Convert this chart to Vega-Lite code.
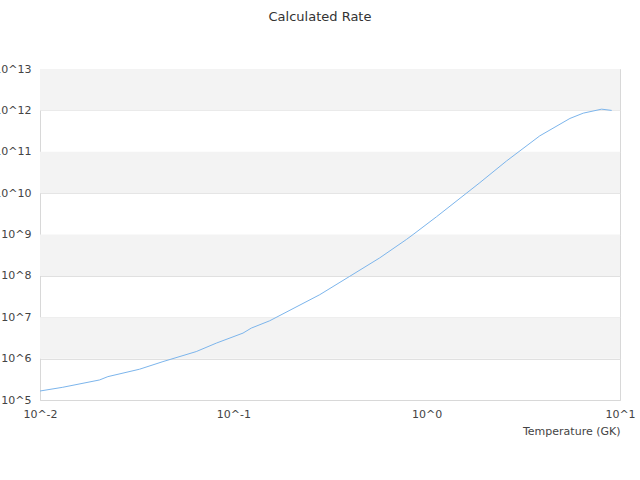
{
  "$schema": "https://vega.github.io/schema/vega-lite/v6.json",
  "width": 580,
  "height": 331,
  "autosize": {"type": "none"},
  "padding": {"left": 40, "top": 69, "right": 20, "bottom": 80},
  "background": "#ffffff",
  "title": {
    "text": "Calculated Rate",
    "font": "DejaVu Sans",
    "fontSize": 13,
    "fontWeight": "normal",
    "color": "#333333",
    "anchor": "middle",
    "frame": "group",
    "baseline": "alphabetic",
    "offset": 29,
    "dx": -10
  },
  "config": {
    "view": {"stroke": "#d8d8d8", "strokeWidth": 1},
    "axis": {
      "labelFont": "DejaVu Sans",
      "labelFontSize": 11,
      "labelColor": "#444444",
      "titleFont": "DejaVu Sans",
      "titleFontSize": 11,
      "titleFontWeight": "normal",
      "titleColor": "#444444",
      "gridColor": "#e0e0e0",
      "domainColor": "#d8d8d8",
      "ticks": false,
      "labelOverlap": false,
      "labelFlush": false
    }
  },
  "datasets": {
    "bands": [
      {"lo": 1e6, "hi": 1e7},
      {"lo": 1e8, "hi": 1e9},
      {"lo": 1e10, "hi": 1e11},
      {"lo": 1e12, "hi": 1e13}
    ],
    "rate": [
      {"T": 0.01, "R": 1.65e5},
      {"T": 0.01312, "R": 2.03e5},
      {"T": 0.02032, "R": 3.05e5},
      {"T": 0.02244, "R": 3.67e5},
      {"T": 0.03273, "R": 5.55e5},
      {"T": 0.04325, "R": 8.47e5},
      {"T": 0.06427, "R": 1.48e6},
      {"T": 0.08166, "R": 2.37e6},
      {"T": 0.1122, "R": 4.14e6},
      {"T": 0.1239, "R": 5.47e6},
      {"T": 0.1542, "R": 8.22e6},
      {"T": 0.2799, "R": 3.51e7},
      {"T": 0.3999, "R": 9.75e7},
      {"T": 0.5715, "R": 2.72e8},
      {"T": 0.7852, "R": 7.57e8},
      {"T": 0.8511, "R": 1.0e9},
      {"T": 1.125, "R": 2.69e9},
      {"T": 1.884, "R": 1.79e10},
      {"T": 2.588, "R": 5.98e10},
      {"T": 3.846, "R": 2.42e11},
      {"T": 5.508, "R": 6.38e11},
      {"T": 6.457, "R": 8.57e11},
      {"T": 8.035, "R": 1.07e12},
      {"T": 9.057, "R": 9.98e11}
    ]
  },
  "layer": [
    {
      "data": {"name": "bands"},
      "mark": {"type": "rect", "color": "#f3f3f3"},
      "encoding": {
        "y": {"field": "lo", "type": "quantitative", "scale": {"type": "log", "domain": [1e5, 1e13], "nice": false}},
        "y2": {"field": "hi"}
      }
    },
    {
      "data": {"name": "rate"},
      "mark": {"type": "line", "color": "#7cb5ec", "strokeWidth": 1},
      "encoding": {
        "x": {
          "field": "T",
          "type": "quantitative",
          "scale": {"type": "log", "domain": [0.01, 10], "nice": false},
          "axis": {
            "values": [0.01, 0.1, 1, 10],
            "labelExpr": "'10^' + round(log(datum.value) / LN10)",
            "grid": false,
            "labelPadding": 8,
            "title": "Temperature (GK)",
            "titleAnchor": "end",
            "titlePadding": 6
          }
        },
        "y": {
          "field": "R",
          "type": "quantitative",
          "scale": {"type": "log", "domain": [1e5, 1e13], "nice": false},
          "axis": {
            "values": [1e5, 1e6, 1e7, 1e8, 1e9, 1e10, 1e11, 1e12, 1e13],
            "labelExpr": "'10^' + round(log(datum.value) / LN10)",
            "labelPadding": 9,
            "title": null
          }
        }
      }
    }
  ]
}
